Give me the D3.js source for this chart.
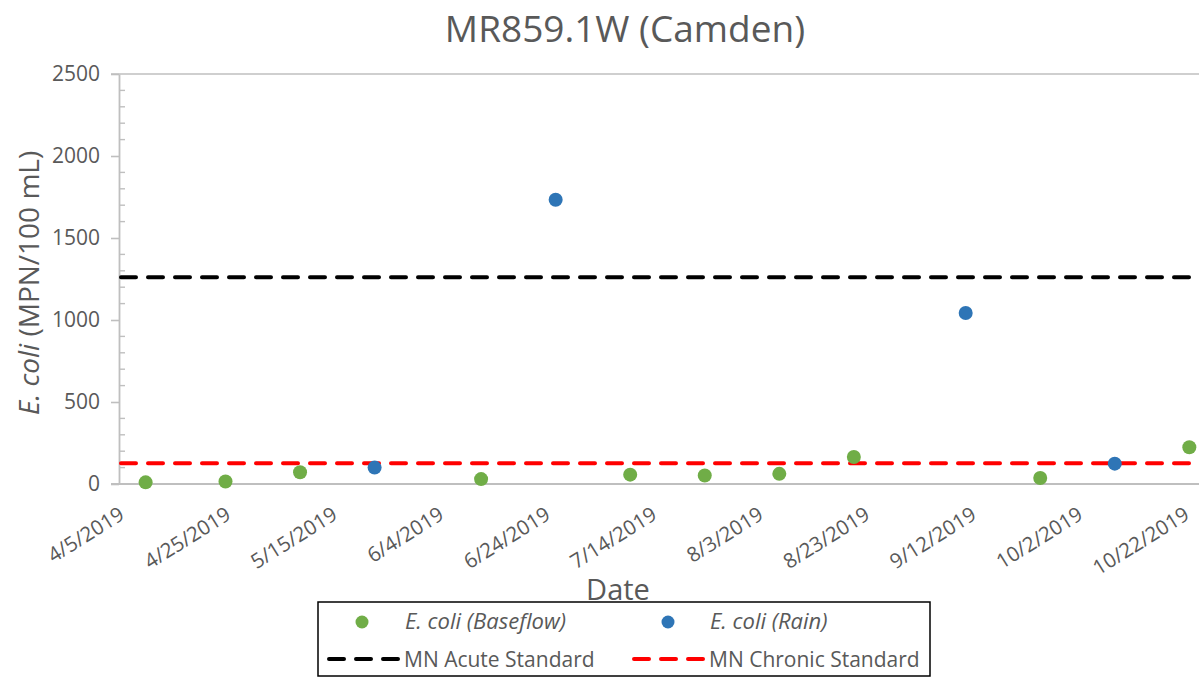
<!DOCTYPE html>
<html><head><meta charset="utf-8">
<script src="https://cdn.jsdelivr.net/npm/d3@7"></script>
<style>body{margin:0;background:#fff;}svg{display:block;font-family:"Open Sans",sans-serif;}</style>
</head><body><svg id="c" width="1199" height="679"></svg>
<script>
const title = "MR859.1W (Camden)";
const baseflowDates = ["2019-04-10","2019-04-25","2019-05-09","2019-06-12","2019-07-10","2019-07-24","2019-08-07","2019-08-21","2019-09-25","2019-10-23"];
const baseflowValues = [10, 15, 72, 30, 57, 52, 62, 165, 37, 224];
const rainDates = ["2019-05-23","2019-06-26","2019-09-11","2019-10-09"];
const rainValues = [100, 1733, 1043, 124];
const acuteStandard = 1260;
const chronicStandard = 126;
const xTickDates = ["2019-04-05","2019-04-25","2019-05-15","2019-06-04","2019-06-24","2019-07-14","2019-08-03","2019-08-23","2019-09-12","2019-10-02","2019-10-22"];
const yTicks = [0, 500, 1000, 1500, 2000, 2500];
const legendLabels = ["E. coli (Baseflow)", "E. coli (Rain)", "MN Acute Standard", "MN Chronic Standard"];

(function () {
const parse = d3.utcParse("%Y-%m-%d");
const fmt = d3.utcFormat("%-m/%-d/%Y");
const svg = d3.select("#c");
const grey = "#595959", axisCol = "#BFBFBF";
const pL = 119, pR = 1199, pT = 74, pB = 484;

const x = d3.scaleUtc().domain([parse("2019-04-05"), parse("2019-10-22")]).range([pL, 1184]);
const y = d3.scaleLinear().domain([0, 2500]).range([pB, pT]);

svg.append("text").attr("x", 625).attr("y", 42).attr("text-anchor", "middle")
  .attr("font-size", 37).attr("fill", grey).text(title);

svg.append("line").attr("x1", 111).attr("x2", pR).attr("y1", y(2500)).attr("y2", y(2500))
  .attr("stroke", axisCol).attr("stroke-width", 1.6);

const yAxis = d3.axisLeft(y).tickValues(yTicks).tickFormat(d3.format("d")).tickSize(8).tickSizeOuter(0).tickPadding(11);
const gy = svg.append("g").attr("transform", `translate(${pL},0)`).call(yAxis);
gy.select(".domain").attr("stroke", axisCol).attr("stroke-width", 1.8);
gy.selectAll(".tick line").attr("stroke", axisCol).attr("stroke-width", 1.6);
gy.selectAll(".tick text").attr("fill", grey).attr("font-size", 21).attr("font-family", "Open Sans");
const minor = d3.range(0, 2501, 100).filter(v => v % 500 !== 0);
svg.append("g").selectAll("line").data(minor).join("line")
  .attr("x1", pL).attr("x2", pL + 6).attr("y1", d => y(d)).attr("y2", d => y(d))
  .attr("stroke", axisCol).attr("stroke-width", 1.4);

svg.append("line").attr("x1", 111).attr("x2", pR).attr("y1", pB).attr("y2", pB)
  .attr("stroke", axisCol).attr("stroke-width", 1.8);
svg.append("g").selectAll("text").data(xTickDates.map(parse)).join("text")
  .attr("transform", d => `translate(${x(d) + 3},${pB + 28}) rotate(-32)`)
  .attr("text-anchor", "end").attr("dy", "0.35em")
  .attr("font-size", 20.5).attr("fill", grey).text(d => fmt(d));

svg.append("text").attr("x", 618).attr("y", 600).attr("text-anchor", "middle")
  .attr("font-size", 29).attr("fill", grey).text("Date");
const yl = svg.append("text").attr("transform", "translate(39,283) rotate(-90)")
  .attr("text-anchor", "middle").attr("font-size", 28).attr("fill", grey);
yl.append("tspan").attr("font-style", "italic").text("E. coli");
yl.append("tspan").text(" (MPN/100 mL)");

const dash = "15,12";
svg.append("line").attr("x1", pL + 2).attr("x2", pR).attr("y1", y(acuteStandard)).attr("y2", y(acuteStandard))
  .attr("stroke", "#000").attr("stroke-width", 4).attr("stroke-dasharray", dash).attr("stroke-linecap", "round");
svg.append("line").attr("x1", pL + 2).attr("x2", pR).attr("y1", y(chronicStandard)).attr("y2", y(chronicStandard))
  .attr("stroke", "#FF0000").attr("stroke-width", 4).attr("stroke-dasharray", dash).attr("stroke-linecap", "round");

const base = baseflowDates.map((d, i) => ({d: parse(d), v: baseflowValues[i]}));
const rain = rainDates.map((d, i) => ({d: parse(d), v: rainValues[i]}));
svg.append("g").selectAll("circle").data(base).join("circle")
  .attr("cx", p => x(p.d)).attr("cy", p => y(p.v)).attr("r", 7).attr("fill", "#70AD47");
svg.append("g").selectAll("circle").data(rain).join("circle")
  .attr("cx", p => x(p.d)).attr("cy", p => y(p.v)).attr("r", 7).attr("fill", "#2E75B6");

const lg = svg.append("g");
lg.append("rect").attr("x", 318).attr("y", 602).attr("width", 612).attr("height", 74)
  .attr("fill", "#fff").attr("stroke", "#000").attr("stroke-width", 1.5);
lg.append("circle").attr("cx", 362).attr("cy", 622).attr("r", 6.5).attr("fill", "#70AD47");
lg.append("circle").attr("cx", 668).attr("cy", 622).attr("r", 6.5).attr("fill", "#2E75B6");
lg.append("line").attr("x1", 329).attr("x2", 399).attr("y1", 659).attr("y2", 659)
  .attr("stroke", "#000").attr("stroke-width", 4).attr("stroke-dasharray", dash).attr("stroke-linecap", "round");
lg.append("line").attr("x1", 634).attr("x2", 704).attr("y1", 659).attr("y2", 659)
  .attr("stroke", "#FF0000").attr("stroke-width", 4).attr("stroke-dasharray", dash).attr("stroke-linecap", "round");
const lt = [[405, 629, legendLabels[0], true, 22], [710, 629, legendLabels[1], true, 22], [404, 667, legendLabels[2], false, 21], [709, 667, legendLabels[3], false, 21]];
lg.selectAll("text").data(lt).join("text")
  .attr("x", d => d[0]).attr("y", d => d[1]).attr("font-size", d => d[4]).attr("fill", grey)
  .attr("font-style", d => d[3] ? "italic" : "normal").text(d => d[2]);
})();
</script></body></html>
